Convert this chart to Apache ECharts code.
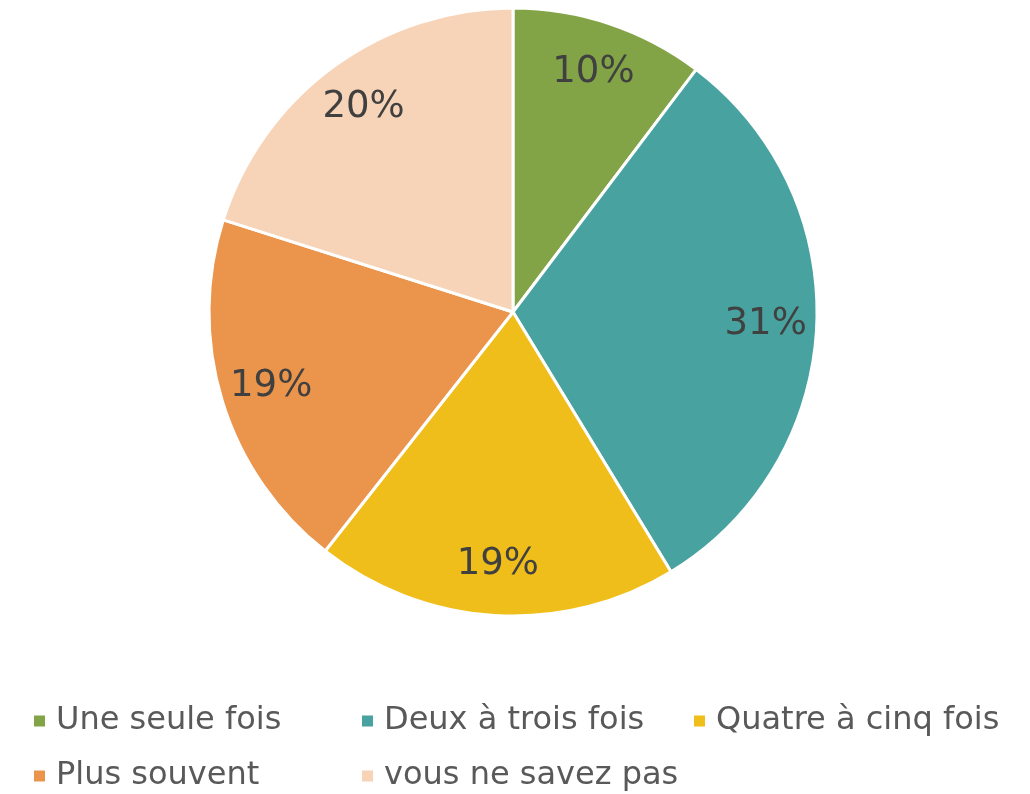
<!DOCTYPE html>
<html>
<head>
<meta charset="utf-8">
<script src="https://cdn.jsdelivr.net/npm/echarts@6/dist/echarts.min.js"></script>
<style>html,body{margin:0;padding:0;background:#fff}#c{width:1030px;height:794px}</style>
</head>
<body>
<div id="c"></div>
<script>
const categories = ['Une seule fois', 'Deux à trois fois', 'Quatre à cinq fois', 'Plus souvent', 'vous ne savez pas'];
const values = [10.3, 31.0, 19.3, 19.3, 20.1];
const colors = ['#83A446', '#48A3A0', '#F0BE1A', '#EB944B', '#F7D4B8'];

const total = values.reduce((a, b) => a + b, 0);
const data = categories.map((n, i) => ({ name: n, value: values[i], itemStyle: { color: colors[i] } }));
const ghost = categories.map((n, i) => ({ name: n, value: values[i], itemStyle: { color: 'rgba(0,0,0,0)' } }));
const font = '"DejaVu Sans", Verdana, sans-serif';

// legend grid slots (column x, row y)
const legendLeft = [32, 360, 692, 32, 360];
const legendTop = [705, 705, 705, 760, 760];

const chart = echarts.init(document.getElementById('c'), null, { renderer: 'canvas' });
chart.setOption({
  animation: false,
  color: colors,
  legend: categories.map((n, i) => ({
    data: [n], left: legendLeft[i], top: legendTop[i],
    itemWidth: 13, itemHeight: 13, icon: 'rect', selectedMode: false, padding: 0,
    textStyle: { fontFamily: font, fontSize: 32, color: '#595959', padding: [0, 0, 0, 5] }
  })),
  series: [
    {
      type: 'pie', center: [513, 312], radius: [0, 304], startAngle: 90, clockwise: true,
      silent: true,
      itemStyle: { borderColor: '#ffffff', borderWidth: 3 },
      label: { show: false }, labelLine: { show: false },
      data: data
    },
    {
      type: 'pie', center: [513, 312], radius: [196, 304], startAngle: 90, clockwise: true,
      silent: true, z: 5,
      itemStyle: { borderWidth: 0 },
      label: {
        show: true, position: 'inside', fontFamily: font, fontSize: 37, color: '#404040',
        formatter: p => Math.round(p.value / total * 100) + '%'
      },
      labelLine: { show: false },
      data: ghost
    }
  ]
});
</script>
</body>
</html>
